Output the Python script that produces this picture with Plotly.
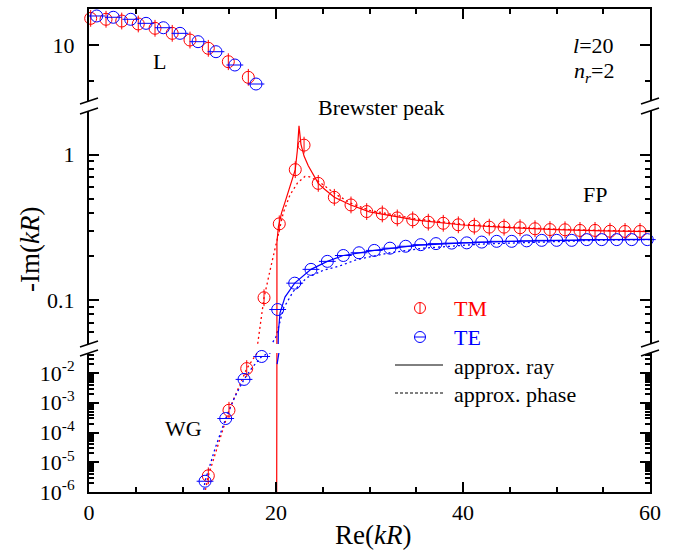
import numpy as np
import plotly.graph_objects as go

FONT = "Liberation Serif, Times New Roman, serif"

# ---------------- data ----------------
# TM (red) computed resonances
TM_L_x = [0.18, 1.82, 3.5, 5.27, 7.06, 8.9, 10.8, 12.76, 14.9, 17.04]
TM_L_y = [13.7, 13.57, 13.33, 12.92, 12.32, 11.62, 10.69, 9.54, 7.68, 5.51]
TM_x = [12.76, 14.97, 16.87, 18.72, 20.35, 22.06, 23.0, 24.52, 26.24, 28.02, 29.70,
        31.37, 32.97, 34.62, 36.29, 37.89, 39.50, 41.21, 42.81, 44.39, 46.10, 47.70,
        49.30, 50.91, 52.51, 54.12, 55.72, 57.33, 58.93]
TM_y = [3.5e-6, 5.6e-4, 0.0141, 0.104, 0.335, 0.79, 1.165, 0.636, 0.510, 0.452, 0.407,
        0.392, 0.368, 0.357, 0.344, 0.338, 0.330, 0.323, 0.318, 0.318, 0.315, 0.310,
        0.306, 0.305, 0.302, 0.302, 0.298, 0.297, 0.297]

# TE (blue) computed resonances
TE_L_x = [0.82, 2.6, 4.46, 6.1, 7.95, 9.73, 11.66, 13.58, 15.6, 17.86]
TE_L_y = [14.03, 13.85, 13.57, 13.01, 12.4, 11.62, 10.46, 9.07, 7.22, 4.58]
TE_x = [12.41, 14.62, 16.58, 18.47, 20.18, 22.0, 23.74, 25.49, 27.2, 28.88, 30.51,
        32.19, 33.87, 35.48, 37.11, 38.79, 40.40, 42.0, 43.6, 45.21, 46.81, 48.42,
        50.02, 51.63, 53.23, 54.83, 56.44, 58.04, 59.71]
TE_y = [2.3e-6, 2.95e-4, 6.1e-3, 0.036, 0.0863, 0.131, 0.163, 0.185, 0.203, 0.212, 0.220,
        0.228, 0.235, 0.241, 0.245, 0.247, 0.248, 0.251, 0.254, 0.254, 0.256, 0.258,
        0.258, 0.258, 0.261, 0.261, 0.261, 0.261, 0.261]

# approx. ray (solid)
RAY_TM_x = [20.07, 20.1, 20.25, 20.6, 21.0, 21.5, 22.06, 22.28, 22.46, 22.67, 23.0, 23.45,
            24.16, 24.52, 25.2, 26.24, 28.0, 30.0, 35.0, 40.0, 45.0, 50.0, 55.0, 60.0]
RAY_TM_y = [1e-7, 0.25, 0.318, 0.40, 0.48, 0.60, 0.79, 1.065, 1.58, 1.18, 0.98, 0.84,
            0.70, 0.636, 0.58, 0.51, 0.452, 0.405, 0.355, 0.329, 0.316, 0.306, 0.300, 0.296]
RAY_TE_x = [20.12, 20.2, 20.25, 20.43, 20.96, 22.0, 23.74, 25.49, 27.2, 30.51, 35.0,
            40.0, 45.0, 50.0, 55.0, 60.0]
RAY_TE_y = [0.02, 0.03, 0.06, 0.082, 0.105, 0.131, 0.163, 0.185, 0.203, 0.220, 0.238,
            0.248, 0.254, 0.258, 0.261, 0.262]

# approx. phase (dotted)
PH_TM_x = [12.35, 12.76, 14.0, 14.97, 16.0, 16.87, 17.5, 18.1, 18.72, 19.36, 20.07, 20.78,
           21.5, 22.3, 23.1, 23.6, 24.5, 25.5, 26.5, 28.0, 30.0, 35.0, 40.0, 45.0, 50.0,
           55.0, 60.0]
PH_TM_y = [8e-7, 3.5e-6, 6e-5, 5.6e-4, 3.2e-3, 0.0141, 0.028, 0.053, 0.104, 0.16, 0.26,
           0.40, 0.53, 0.64, 0.71, 0.705, 0.66, 0.59, 0.53, 0.465, 0.415, 0.362, 0.333,
           0.319, 0.308, 0.302, 0.298]
PH_TE_x = [12.2, 12.41, 13.5, 14.62, 15.6, 16.58, 17.5, 18.47, 19.2, 20.0, 20.8, 21.85,
           23.3, 25.0, 26.8, 28.6, 32.2, 35.8, 41.8, 48.0, 54.0, 60.0]
PH_TE_y = [8e-7, 2.3e-6, 3e-5, 2.95e-4, 1.6e-3, 6.1e-3, 0.016, 0.036, 0.046, 0.056, 0.088,
           0.115, 0.143, 0.16, 0.172, 0.19, 0.212, 0.228, 0.243, 0.252, 0.258, 0.261]

X_TICKS = [0, 20, 40, 60]
X_MINOR = [5, 10, 15, 25, 30, 35, 45, 50, 55]

# ---------------- layout geometry ----------------
W, H = 677, 554
ML, MR, MT, MB = 89, 27, 9, 62
PW, PH = W - ML - MR, H - MT - MB


def px2x(px):
    return (px - ML) / PW


def py2y(py):
    return (H - MB - py) / PH


# segments: (x axis, y axis, domain, type, range, value limits)
segments = [
    dict(xa="x", ya="y", dom=[0, 139 / PH], type="log", rng=[-6, -1.327],
         lim=(1e-6, 10 ** -1.327)),
    dict(xa="x2", ya="y2", dom=[148 / PH, 381 / PH], type="log",
         rng=[np.log10(0.05), np.log10(2)], lim=(0.05, 2)),
    dict(xa="x3", ya="y3", dom=[391 / PH, 1], type="linear", rng=[2.22, 15],
         lim=(2.22, 15)),
]

fig = go.Figure()

all_TM_x = TM_L_x + TM_x
all_TM_y = TM_L_y + TM_y
all_TE_x = TE_L_x + TE_x
all_TE_y = TE_L_y + TE_y

for s in segments:
    kw = dict(xaxis=s["xa"], yaxis=s["ya"], showlegend=False, hoverinfo="skip")
    # lines (clipped to subplot)
    fig.add_trace(go.Scatter(x=PH_TM_x, y=PH_TM_y, mode="lines",
                             line=dict(color="red", width=1.3, dash="2px,3px"), **kw))
    fig.add_trace(go.Scatter(x=PH_TE_x, y=PH_TE_y, mode="lines",
                             line=dict(color="blue", width=1.3, dash="2px,3px"), **kw))
    fig.add_trace(go.Scatter(x=RAY_TM_x, y=RAY_TM_y, mode="lines",
                             line=dict(color="red", width=1.2), **kw))
    fig.add_trace(go.Scatter(x=RAY_TE_x, y=RAY_TE_y, mode="lines",
                             line=dict(color="blue", width=1.2), **kw))
    lo, hi = s["lim"]
    for xs, ys, col, bar in [(all_TM_x, all_TM_y, "red", "line-ns-open"),
                             (all_TE_x, all_TE_y, "blue", "line-ew-open")]:
        sel = [(a, b) for a, b in zip(xs, ys) if lo <= b <= hi]
        if not sel:
            continue
        sx = [a for a, b in sel]
        sy = [b for a, b in sel]
        fig.add_trace(go.Scatter(x=sx, y=sy, mode="markers", cliponaxis=False,
                                 marker=dict(symbol="circle-open", size=12, color=col,
                                             line=dict(width=1, color=col)), **kw))
        fig.add_trace(go.Scatter(x=sx, y=sy, mode="markers", cliponaxis=False,
                                 marker=dict(symbol=bar, size=12, color=col,
                                             line=dict(width=1, color=col)), **kw))

tickfont = dict(family=FONT, size=22, color="black")
common_y = dict(showline=True, linecolor="black", linewidth=2, mirror="ticks",
                ticks="inside", ticklen=10, tickwidth=1.5, tickcolor="black",
                showgrid=False, zeroline=False, tickfont=tickfont,
                ticklabelstandoff=8)
common_x = dict(range=[0, 60], showline=True, linecolor="black", linewidth=2,
                ticks="inside", ticklen=10, tickwidth=1.5, tickcolor="black",
                showgrid=False, zeroline=False, tickfont=tickfont,
                tickmode="array", tickvals=X_TICKS,
                minor=dict(ticks="inside", ticklen=5, tickwidth=1.5, tickcolor="black",
                           tickvals=X_MINOR, showgrid=False))

bot_major = [1e-6, 1e-5, 1e-4, 1e-3, 1e-2]
bot_text = ["10<sup>-6</sup>", "10<sup>-5</sup>", "10<sup>-4</sup>", "10<sup>-3</sup>",
            "10<sup>-2</sup>"]
bot_minor = [k * 10.0 ** e for e in range(-6, -1) for k in range(2, 10) if k * 10.0 ** e < 0.047]
mid_minor = [0.06, 0.07, 0.08, 0.09] + [k / 10 for k in range(2, 10)]

minor_style = dict(ticks="inside", ticklen=5, tickwidth=1.5, tickcolor="black", showgrid=False)

fig.update_layout(
    width=W, height=H, margin=dict(l=ML, r=MR, t=MT, b=MB),
    plot_bgcolor="white", paper_bgcolor="white", showlegend=False,
    font=dict(family=FONT, size=22, color="black"),
    xaxis=dict(anchor="y", domain=[0, 1], **common_x),
    xaxis2=dict(anchor="y2", domain=[0, 1], range=[0, 60], visible=False),
    xaxis3=dict(anchor="y3", domain=[0, 1], side="top", showticklabels=False, **common_x),
    yaxis=dict(anchor="x", domain=segments[0]["dom"], type="log", range=segments[0]["rng"],
               tickmode="array", tickvals=bot_major, ticktext=bot_text,
               minor=dict(tickvals=bot_minor, **minor_style), **common_y),
    yaxis2=dict(anchor="x2", domain=segments[1]["dom"], type="log", range=segments[1]["rng"],
                tickmode="array", tickvals=[0.1, 1], ticktext=["0.1", "1"],
                minor=dict(tickvals=mid_minor, **minor_style), **common_y),
    yaxis3=dict(anchor="x3", domain=segments[2]["dom"], type="linear", range=segments[2]["rng"],
                tickmode="array", tickvals=[10], ticktext=["10"],
                minor=dict(tickvals=[5], **minor_style), **common_y),
)

# ---------------- break marks ----------------
shapes = []
for s in segments:
    for d in s["dom"]:
        if d in (0, 1):
            continue
        pyb = H - MB - d * PH
        for pxb in (ML, W - MR):
            shapes.append(dict(type="line", xref="paper", yref="paper",
                               x0=px2x(pxb - 9), y0=py2y(pyb + 3),
                               x1=px2x(pxb + 9), y1=py2y(pyb - 3),
                               line=dict(color="black", width=1.5)))

# ---------------- manual legend ----------------
r = 5.5
for cy, col, vert in [(308, "red", True), (337, "blue", False)]:
    shapes.append(dict(type="circle", xref="paper", yref="paper",
                       x0=px2x(420 - r), x1=px2x(420 + r), y0=py2y(cy + r), y1=py2y(cy - r),
                       line=dict(color=col, width=1)))
    if vert:
        shapes.append(dict(type="line", xref="paper", yref="paper",
                           x0=px2x(420), x1=px2x(420), y0=py2y(cy + r), y1=py2y(cy - r),
                           line=dict(color=col, width=1)))
    else:
        shapes.append(dict(type="line", xref="paper", yref="paper",
                           x0=px2x(420 - r), x1=px2x(420 + r), y0=py2y(cy), y1=py2y(cy),
                           line=dict(color=col, width=1)))
shapes.append(dict(type="line", xref="paper", yref="paper", x0=px2x(395), x1=px2x(443),
                   y0=py2y(365), y1=py2y(365), line=dict(color="black", width=1)))
shapes.append(dict(type="line", xref="paper", yref="paper", x0=px2x(395), x1=px2x(443),
                   y0=py2y(393), y1=py2y(393), line=dict(color="black", width=1, dash="3px,2px")))
fig.update_layout(shapes=shapes)

ann = []


def txt(text, px, py, size=22, color="black", xanchor="center", angle=0):
    ann.append(dict(text=text, x=px2x(px), y=py2y(py), xref="paper", yref="paper",
                    showarrow=False, xanchor=xanchor, yanchor="middle", textangle=angle,
                    font=dict(family=FONT, size=size, color=color)))


txt("L", 159, 62)
txt("Brewster peak", 381, 107)
txt("FP", 595, 195)
txt("WG", 183, 428)
txt("<i>l</i>=20", 616, 45, xanchor="right")
txt("<i>n</i><sub><i>r</i></sub>=2", 616, 72, xanchor="right")
txt("TM", 452, 308, color="red", xanchor="left")
txt("TE", 452, 337, color="blue", xanchor="left")
txt("approx. ray", 452, 366, xanchor="left")
txt("approx. phase", 452, 394, xanchor="left")
txt("Re(<i>kR</i>)", 373, 535, size=27)
txt("-Im(<i>kR</i>)", 30, 250, size=27, angle=-90)
fig.update_layout(annotations=ann)

fig.write_html("out.html")
